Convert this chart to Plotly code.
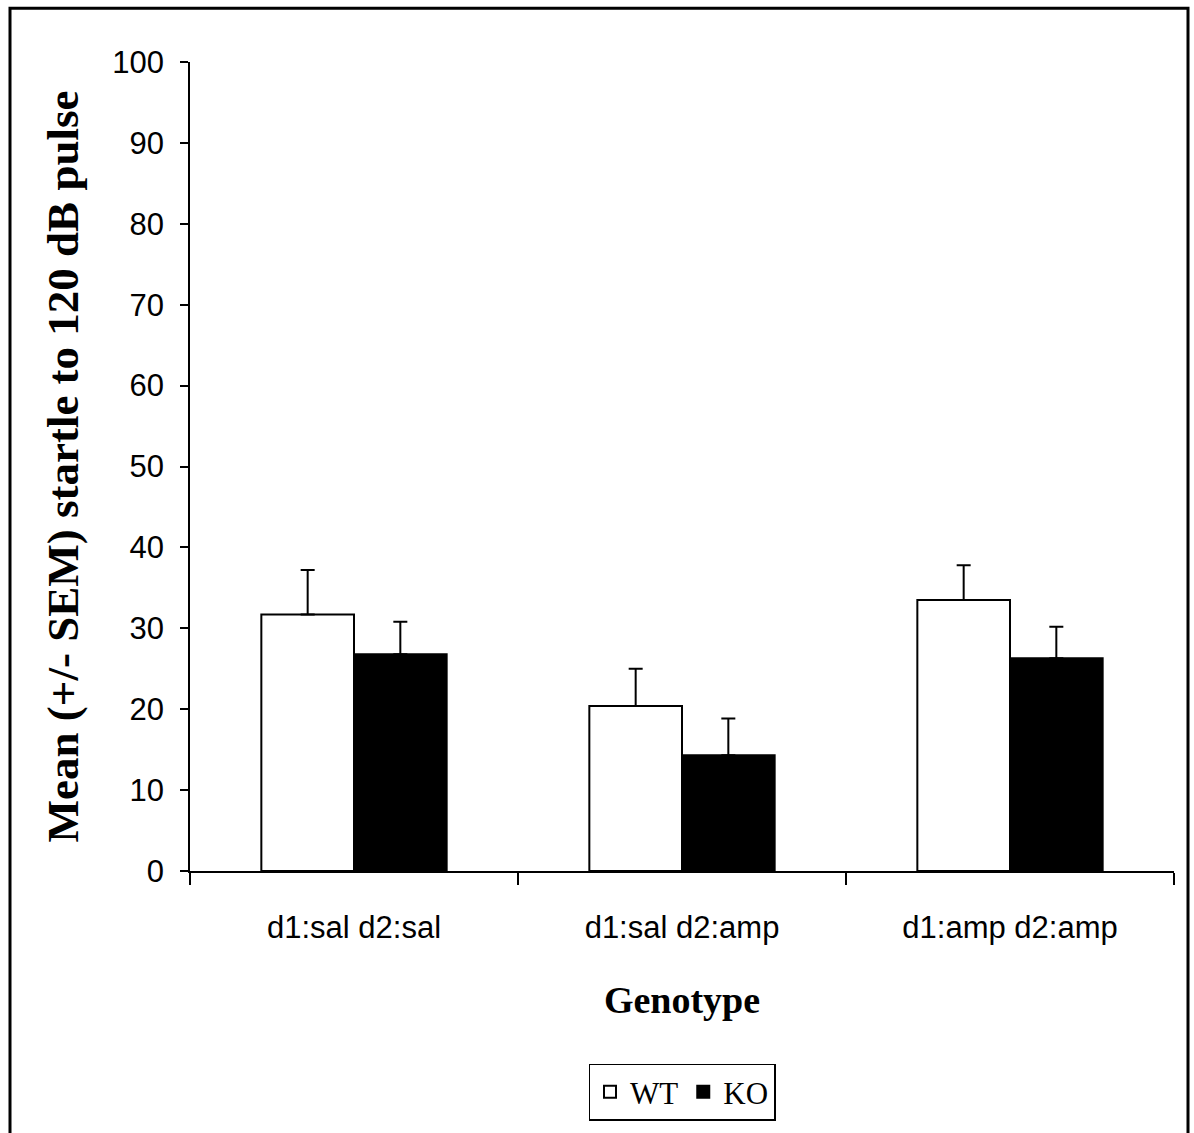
import plotly.graph_objects as go

categories = ["d1:sal d2:sal", "d1:sal d2:amp", "d1:amp d2:amp"]
wt_mean = [31.7, 20.4, 33.5]
wt_sem = [5.5, 4.6, 4.3]
ko_mean = [26.8, 14.3, 26.3]
ko_sem = [4.0, 4.55, 3.9]
y_ticks = [0, 10, 20, 30, 40, 50, 60, 70, 80, 90, 100]

SERIF = "Times New Roman, Liberation Serif, serif"
SANS = "Arial, Liberation Sans, sans-serif"

fig = go.Figure()
fig.add_trace(go.Bar(
    name="WT", x=categories, y=wt_mean,
    marker=dict(color="white", line=dict(color="black", width=2)),
    error_y=dict(type="data", array=wt_sem, symmetric=False, arrayminus=[0]*3,
                 color="black", thickness=2, width=7),
))
fig.add_trace(go.Bar(
    name="KO", x=categories, y=ko_mean,
    marker=dict(color="black", line=dict(color="black", width=2)),
    error_y=dict(type="data", array=ko_sem, symmetric=False, arrayminus=[0]*3,
                 color="black", thickness=2, width=7),
))

W, H = 1194, 1133
L, T, B, R = 190, 62, 260, 20
PW, PH = W - L - R, H - T - B

fig.update_layout(
    width=W, height=H, autosize=False,
    margin=dict(l=L, r=R, t=T, b=B),
    paper_bgcolor="white", plot_bgcolor="white",
    barmode="group", bargap=0.435, bargroupgap=0,
    showlegend=True,
    legend=dict(orientation="h", x=0.5, xanchor="center",
                y=(H - B - 1066) / PH, yanchor="top",
                bordercolor="black", borderwidth=1.5,
                font=dict(family=SERIF, size=31, color="black"),
                itemwidth=30, tracegroupgap=0),
    xaxis=dict(
        showline=True, linecolor="black", linewidth=1.5,
        ticks="outside", ticklen=12, tickwidth=1.5, tickcolor="black",
        tickson="boundaries", ticklabelstandoff=28,
        tickfont=dict(family=SANS, size=31, color="black"),
        title=dict(text="<b>Genotype</b>", standoff=42,
                   font=dict(family=SERIF, size=38, color="black")),
        showgrid=False, zeroline=False,
    ),
    yaxis=dict(
        range=[0, 100], tickvals=y_ticks,
        showline=True, linecolor="black", linewidth=1.5,
        ticks="outside", ticklen=8, tickwidth=1.5, tickcolor="black",
        ticklabelstandoff=10,
        tickfont=dict(family=SANS, size=31, color="black"),
        title=dict(text="<b>Mean (+/- SEM) startle to 120 dB pulse</b>",
                   standoff=20,
                   font=dict(family=SERIF, size=45, color="black")),
        showgrid=False, zeroline=False,
    ),
)

# outer frame around the whole chart
fig.add_shape(type="rect", xref="paper", yref="paper",
              x0=(10 - L) / PW, x1=(1188 - L) / PW,
              y0=-0.4, y1=(H - B - 8) / PH,
              line=dict(color="black", width=3), fillcolor="rgba(0,0,0,0)", layer="below")

fig.write_html("out.html", config={"displayModeBar": False},
               post_script="document.body.style.margin='0';")
